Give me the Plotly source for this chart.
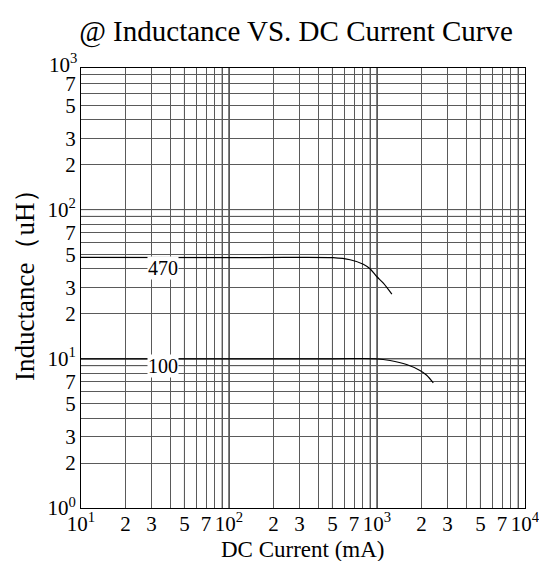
import numpy as np
import plotly.graph_objects as go

# ---- data ----
cur_470 = [10, 155, 505, 658, 808, 897, 995, 1104, 1260]
ind_470 = [47.8, 47.7, 47.6, 46.1, 43.05, 40.1, 35.6, 32.1, 27.1]

cur_100 = [10, 500, 995, 1225, 1585, 1950, 2166, 2400]
ind_100 = [10.0, 10.0, 10.0, 9.74, 9.15, 8.35, 7.76, 6.9]

x_tickvals = [10, 20, 30, 50, 70, 100, 200, 300, 500, 700, 1000, 2000, 3000, 5000, 7000, 10000]
x_ticktext = ["10<sup>1</sup>", "2", "3", "5", "7", "10<sup>2</sup>", "2", "3", "5", "7",
              "10<sup>3</sup>", "2", "3", "5", "7", "10<sup>4</sup>"]
y_tickvals = [1, 2, 3, 5, 7, 10, 20, 30, 50, 70, 100, 200, 300, 500, 700]
y_ticktext = ["10<sup>0</sup>", "2", "3", "5", "7", "10<sup>1</sup>", "2", "3", "5", "7",
              "10<sup>2</sup>", "2", "3", "5", "7"]
minor_x = [4, 6, 8, 9, 40, 60, 80, 90, 400, 600, 800, 900, 4000, 6000, 8000, 9000]
minor_y = [4, 6, 8, 9, 40, 60, 80, 90, 400, 600, 800]
dark_x = [50, 90, 100, 500, 900, 1000, 5000, 9000]
dark_y = [9, 10, 90, 100]

curve_labels = ["470", "100"]
label_x = [35.8, 35.8]
label_y = [40.6, 8.9]

FONT = "Liberation Serif, Times New Roman, serif"
GRID = "#5a5a5a"

fig = go.Figure()
fig.add_trace(go.Scatter(x=cur_470, y=ind_470, mode="lines", line=dict(color="black", width=1.2, shape="spline", smoothing=0.8),
                         showlegend=False, hoverinfo="skip"))
fig.add_trace(go.Scatter(x=cur_100, y=ind_100, mode="lines", line=dict(color="black", width=1.2, shape="spline", smoothing=0.8),
                         showlegend=False, hoverinfo="skip"))

shapes = []
for v in dark_x:
    shapes.append(dict(type="line", xref="x", yref="paper", x0=v, x1=v, y0=0, y1=1,
                       line=dict(color="black", width=1), layer="below"))
for v in dark_y:
    shapes.append(dict(type="line", xref="paper", yref="y", x0=0, x1=1, y0=v, y1=v,
                       line=dict(color="black", width=1), layer="below"))

annotations = []
for t, xv, yv in zip(curve_labels, label_x, label_y):
    annotations.append(dict(x=np.log10(xv), y=np.log10(yv), xref="x", yref="y", text=t, showarrow=False,
                            font=dict(family=FONT, size=20, color="black"), bgcolor="white", borderpad=0))
annotations.append(dict(x=0, y=1, xref="paper", yref="paper", text="10<sup>3</sup>", showarrow=False,
                        xanchor="right", yanchor="middle", xshift=-2, yshift=5,
                        font=dict(family=FONT, size=21, color="black")))
annotations.append(dict(x=0.5, y=0, xref="paper", yref="paper", text="DC Current (mA)", showarrow=False,
                        xanchor="center", yanchor="middle", yshift=-41,
                        font=dict(family=FONT, size=23, color="black")))
annotations.append(dict(x=0, y=0.5, xref="paper", yref="paper", text="Inductance（uH）", showarrow=False,
                        textangle=-90, xanchor="center", yanchor="middle", xshift=-56, yshift=9,
                        font=dict(family=FONT, size=27, color="black")))

fig.update_layout(
    width=539, height=553,
    margin=dict(l=73, r=22, t=60, b=53, autoexpand=False),
    paper_bgcolor="white", plot_bgcolor="white",
    title=dict(text="@ Inductance VS. DC Current Curve", x=(296 - 8) / 539, xanchor="center",
               y=1 - 23 / 553, yanchor="middle", font=dict(family=FONT, size=29, color="black")),
    shapes=shapes, annotations=annotations,
    xaxis=dict(type="log", range=[1, 4], tickvals=x_tickvals, ticktext=x_ticktext, automargin=False,
               showgrid=True, gridcolor=GRID, gridwidth=1, ticks="", zeroline=False,
               showline=True, linecolor="black", linewidth=1, mirror=True, ticklabelstandoff=-3,
               tickfont=dict(family=FONT, size=21, color="black"),
               minor=dict(tickvals=minor_x, showgrid=True, gridcolor=GRID, gridwidth=1, ticks="")),
    yaxis=dict(type="log", range=[0, 2.949], tickvals=y_tickvals, ticktext=y_ticktext, automargin=False,
               showgrid=True, gridcolor=GRID, gridwidth=1, ticks="", zeroline=False,
               showline=True, linecolor="black", linewidth=1, mirror=True,
               tickfont=dict(family=FONT, size=21, color="black"),
               minor=dict(tickvals=minor_y, showgrid=True, gridcolor=GRID, gridwidth=1, ticks="")),
)

fig.write_html("out.html")
